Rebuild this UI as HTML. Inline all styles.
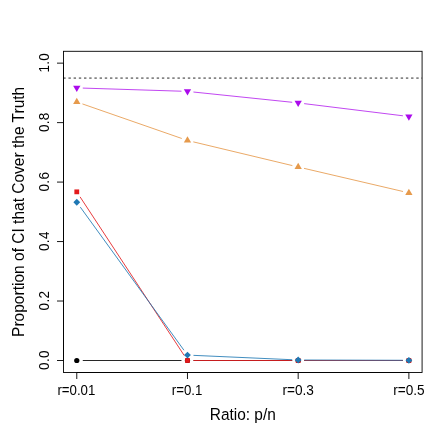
<!DOCTYPE html>
<html><head><meta charset="utf-8"><title>chart</title>
<style>
html,body{margin:0;padding:0;background:#fff;}
body{width:436px;height:436px;overflow:hidden;position:relative;}
svg{position:absolute;left:0;top:0;will-change:transform;}
svg text{font-family:"Liberation Sans",sans-serif;}
</style></head><body>
<svg width="436" height="436" viewBox="0 0 436 436" style="display:block">
<rect x="0" y="0" width="436" height="436" fill="#ffffff"/>
<line x1="63.25" y1="78.0" x2="422.08" y2="78.0" stroke="#858585" stroke-width="1.75" stroke-dasharray="2.4 2.7915"/>
<line x1="82.78" y1="360.50" x2="181.48" y2="360.50" stroke="#000000" stroke-width="0.85"/>
<line x1="193.48" y1="360.50" x2="292.18" y2="360.50" stroke="#000000" stroke-width="0.85"/>
<line x1="304.18" y1="360.50" x2="402.88" y2="360.50" stroke="#000000" stroke-width="0.85"/>
<circle cx="76.78" cy="360.50" r="2.62" fill="#000000"/>
<circle cx="187.48" cy="360.50" r="2.62" fill="#000000"/>
<circle cx="298.18" cy="360.50" r="2.62" fill="#000000"/>
<circle cx="408.88" cy="360.50" r="2.62" fill="#000000"/>
<line x1="82.45" y1="103.93" x2="181.81" y2="138.49" stroke="#E69A4C" stroke-width="0.85"/>
<line x1="193.31" y1="141.86" x2="292.35" y2="165.59" stroke="#E69A4C" stroke-width="0.85"/>
<line x1="304.02" y1="168.35" x2="403.04" y2="191.49" stroke="#E69A4C" stroke-width="0.85"/>
<polygon points="76.78,97.82 80.43,104.02 73.13,104.02" fill="#E69A4C"/>
<polygon points="187.48,136.33 191.13,142.53 183.83,142.53" fill="#E69A4C"/>
<polygon points="298.18,162.85 301.83,169.05 294.53,169.05" fill="#E69A4C"/>
<polygon points="408.88,188.72 412.53,194.92 405.23,194.92" fill="#E69A4C"/>
<line x1="82.78" y1="88.08" x2="181.48" y2="91.21" stroke="#B626EF" stroke-width="0.85"/>
<line x1="193.45" y1="92.02" x2="292.21" y2="102.29" stroke="#B626EF" stroke-width="0.85"/>
<line x1="304.14" y1="103.64" x2="402.92" y2="115.79" stroke="#B626EF" stroke-width="0.85"/>
<polygon points="76.78,92.02 80.43,85.82 73.13,85.82" fill="#AB0AEC"/>
<polygon points="187.48,95.53 191.13,89.33 183.83,89.33" fill="#AB0AEC"/>
<polygon points="298.18,107.04 301.83,100.84 294.53,100.84" fill="#AB0AEC"/>
<polygon points="408.88,120.66 412.53,114.46 405.23,114.46" fill="#AB0AEC"/>
<line x1="80.07" y1="196.86" x2="184.19" y2="355.48" stroke="#E31A1C" stroke-width="0.85"/>
<line x1="193.48" y1="360.50" x2="292.18" y2="360.50" stroke="#E31A1C" stroke-width="0.85"/>
<line x1="304.18" y1="360.50" x2="402.88" y2="360.50" stroke="#E31A1C" stroke-width="0.85"/>
<rect x="74.38" y="189.44" width="4.80" height="4.80" fill="#E31A1C"/>
<rect x="185.08" y="358.10" width="4.80" height="4.80" fill="#E31A1C"/>
<rect x="295.78" y="358.10" width="4.80" height="4.80" fill="#E31A1C"/>
<rect x="406.48" y="358.10" width="4.80" height="4.80" fill="#E31A1C"/>
<line x1="80.30" y1="207.11" x2="183.96" y2="350.23" stroke="#1F78B4" stroke-width="0.85"/>
<line x1="193.47" y1="355.35" x2="292.19" y2="359.73" stroke="#1F78B4" stroke-width="0.85"/>
<line x1="304.18" y1="360.01" x2="402.88" y2="360.28" stroke="#1F78B4" stroke-width="0.85"/>
<polygon points="73.38,202.25 76.78,198.85 80.18,202.25 76.78,205.65" fill="#1F78B4"/>
<polygon points="184.08,355.09 187.48,351.69 190.88,355.09 187.48,358.49" fill="#1F78B4"/>
<polygon points="294.78,359.99 298.18,356.59 301.58,359.99 298.18,363.39" fill="#1F78B4"/>
<polygon points="405.48,360.29 408.88,356.89 412.28,360.29 408.88,363.69" fill="#1F78B4"/>
<rect x="63.5" y="51.3" width="358.58" height="321.20" fill="none" stroke="#000" stroke-width="0.9"/>
<line x1="63.5" y1="63.15" x2="63.5" y2="360.50" stroke="#000" stroke-width="0.9"/>
<line x1="76.78" y1="372.5" x2="408.88" y2="372.5" stroke="#000" stroke-width="0.9"/>
<line x1="57.0" y1="360.50" x2="63.5" y2="360.50" stroke="#000" stroke-width="0.9"/>
<text transform="translate(48.7,360.05) rotate(-90) scale(0.89,1)" text-anchor="middle" letter-spacing="0.35" font-size="15.2" fill="#000">0.0</text>
<line x1="57.0" y1="301.03" x2="63.5" y2="301.03" stroke="#000" stroke-width="0.9"/>
<text transform="translate(48.7,300.58) rotate(-90) scale(0.89,1)" text-anchor="middle" letter-spacing="0.35" font-size="15.2" fill="#000">0.2</text>
<line x1="57.0" y1="241.56" x2="63.5" y2="241.56" stroke="#000" stroke-width="0.9"/>
<text transform="translate(48.7,241.11) rotate(-90) scale(0.89,1)" text-anchor="middle" letter-spacing="0.35" font-size="15.2" fill="#000">0.4</text>
<line x1="57.0" y1="182.09" x2="63.5" y2="182.09" stroke="#000" stroke-width="0.9"/>
<text transform="translate(48.7,181.64) rotate(-90) scale(0.89,1)" text-anchor="middle" letter-spacing="0.35" font-size="15.2" fill="#000">0.6</text>
<line x1="57.0" y1="122.62" x2="63.5" y2="122.62" stroke="#000" stroke-width="0.9"/>
<text transform="translate(48.7,122.17) rotate(-90) scale(0.89,1)" text-anchor="middle" letter-spacing="0.35" font-size="15.2" fill="#000">0.8</text>
<line x1="57.0" y1="63.15" x2="63.5" y2="63.15" stroke="#000" stroke-width="0.9"/>
<text transform="translate(48.7,62.70) rotate(-90) scale(0.89,1)" text-anchor="middle" letter-spacing="0.35" font-size="15.2" fill="#000">1.0</text>
<line x1="76.78" y1="372.5" x2="76.78" y2="379.0" stroke="#000" stroke-width="0.9"/>
<text transform="translate(76.38,394.9) scale(0.872,1)" text-anchor="middle" font-size="15.2" fill="#000">r=0.01</text>
<line x1="187.48" y1="372.5" x2="187.48" y2="379.0" stroke="#000" stroke-width="0.9"/>
<text transform="translate(187.08,394.9) scale(0.872,1)" text-anchor="middle" font-size="15.2" fill="#000">r=0.1</text>
<line x1="298.18" y1="372.5" x2="298.18" y2="379.0" stroke="#000" stroke-width="0.9"/>
<text transform="translate(298.18,394.9) scale(0.897,1)" text-anchor="middle" font-size="15.2" fill="#000">r=0.3</text>
<line x1="408.88" y1="372.5" x2="408.88" y2="379.0" stroke="#000" stroke-width="0.9"/>
<text transform="translate(408.88,394.9) scale(0.897,1)" text-anchor="middle" font-size="15.2" fill="#000">r=0.5</text>
<text transform="translate(242.8,419.6) scale(0.931,1)" text-anchor="middle" font-size="16.6" fill="#000">Ratio: p/n</text>
<text transform="translate(23.8,211.85) rotate(-90) scale(0.9353,1)" text-anchor="middle" font-size="16.6" fill="#000">Proportion of CI that Cover the Truth</text>
</svg>
</body></html>
